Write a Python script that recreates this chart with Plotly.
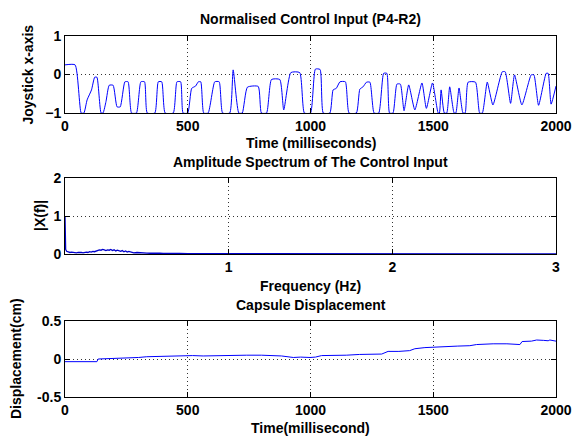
import plotly.graph_objects as go

# ---- Data: Normalised control input (joystick x-axis) ----
t_ms = [0, 41, 66, 77, 90, 108, 121, 130, 147, 155, 167, 180, 196, 212, 225, 244, 257, 271,
        291, 309, 324, 335, 366, 380, 394, 408, 441, 456, 471, 481, 500, 516, 532, 543, 553,
        565, 583, 610, 628, 642, 671, 685, 708, 722, 743, 787, 800, 821, 841, 875, 891, 920,
        956, 975, 1000, 1020, 1039, 1052, 1079, 1092, 1105, 1120, 1142, 1157, 1187, 1201,
        1214, 1228, 1242, 1259, 1278, 1298, 1311, 1322, 1336, 1352, 1366, 1381, 1400, 1425,
        1454, 1472, 1497, 1520, 1525, 1532, 1545, 1555, 1567, 1585, 1592, 1605, 1621, 1630,
        1642, 1672, 1689, 1700, 1720, 1743, 1781, 1793, 1815, 1831, 1861, 1899, 1910, 1929,
        1960, 1968, 1980, 2000]
joystick = [0.25, 0.25, -1, -1, -0.66, -0.4, -0.07, -0.07, -1, -1, -0.7, -0.28, -0.28, -0.84,
            -0.84, -0.19, -0.19, -1, -1, -0.19, -0.19, -1, -1, -0.19, -0.19, -1, -1, -0.19,
            -0.19, -1, -1, -0.36, -0.3, -0.19, -0.19, -1, -1, -0.19, -0.19, -1, -1, 0.12, -1,
            -1, -0.33, -0.31, -1, -1, -0.13, -0.13, -0.92, 0.05, 0.05, -1, -1, 0.14, 0.13, -1,
            -1, -0.4, -0.36, -0.19, -0.19, -1, -1, -0.38, -0.32, -0.2, -0.2, -1, -1, 0.03,
            0.03, -1, -1, -0.25, -0.25, -0.94, -0.27, -0.92, -0.22, -0.88, -0.22, -1, -1,
            -0.4, -1, -1, -0.32, -1, -1, -0.35, -1, -1, -0.2, -0.2, -1, -1, -0.2, -0.79,
            0.07, 0.07, -0.75, -0.01, -0.79, -0.01, -0.01, -0.8, 0.03, 0.03, -0.77, -0.3]

# ---- Data: amplitude spectrum ----
freq_hz = [0, 0.004, 0.01, 0.02, 0.03, 0.04, 0.05, 0.06, 0.07, 0.08, 0.09, 0.10, 0.11, 0.12,
           0.13, 0.14, 0.15, 0.16, 0.17, 0.18, 0.19, 0.20, 0.21, 0.22, 0.23, 0.24, 0.25, 0.26,
           0.27, 0.28, 0.29, 0.30, 0.31, 0.32, 0.33, 0.34, 0.35, 0.36, 0.37, 0.38, 0.39, 0.40,
           0.41, 0.42, 0.44, 0.46, 0.48, 0.50, 0.52, 0.54, 0.56, 0.58, 0.60, 0.63, 0.66, 0.70,
           0.75, 0.80, 0.9, 1.0, 1.2, 1.5, 2.0, 2.5, 3.0]
amplitude = [1.0, 0.12, 0.07, 0.05, 0.04, 0.05, 0.04, 0.05, 0.03, 0.04, 0.05, 0.04, 0.03, 0.05,
             0.05, 0.04, 0.06, 0.05, 0.07, 0.06, 0.08, 0.09, 0.11, 0.10, 0.12, 0.11, 0.09, 0.11,
             0.10, 0.12, 0.09, 0.11, 0.08, 0.10, 0.09, 0.07, 0.09, 0.06, 0.08, 0.05, 0.07, 0.05,
             0.04, 0.03, 0.04, 0.03, 0.035, 0.025, 0.02, 0.025, 0.02, 0.02, 0.015, 0.02, 0.01,
             0.015, 0.01, 0.01, 0.008, 0.01, 0.008, 0.006, 0.006, 0.005, 0.005]

# ---- Data: capsule displacement ----
t_disp = [0, 60, 130, 135, 200, 270, 300, 333, 380, 420, 482, 520, 563, 620, 698, 740, 800,
          850, 882, 930, 960, 998, 1020, 1045, 1100, 1146, 1200, 1250, 1290, 1316, 1360, 1404,
          1425, 1466, 1513, 1554, 1600, 1649, 1676, 1744, 1800, 1853, 1862, 1900, 1921, 1950,
          1968, 1975, 2000]
displacement = [-0.035, -0.035, -0.035, 0.0, 0.005, 0.01, 0.02, 0.03, 0.035, 0.04, 0.05, 0.045,
                0.04, 0.045, 0.045, 0.05, 0.05, 0.045, 0.04, 0.02, 0.025, 0.02, 0.025, 0.045,
                0.045, 0.05, 0.06, 0.065, 0.065, 0.1, 0.1, 0.11, 0.135, 0.15, 0.16, 0.17, 0.17,
                0.175, 0.19, 0.2, 0.2, 0.19, 0.23, 0.235, 0.25, 0.245, 0.24, 0.25, 0.235]

# tick labels
time_ticks = [0, 500, 1000, 1500, 2000]
freq_ticks = [1, 2, 3]

FONT = dict(family="Liberation Sans, Arial, sans-serif", size=14, color="black", weight="bold")
BLUE = "#0000ff"

fig = go.Figure()
fig.add_trace(go.Scatter(x=t_ms, y=joystick, mode="lines",
                         line=dict(color=BLUE, width=1, shape="spline", smoothing=0.5),
                         xaxis="x", yaxis="y"))
fig.add_trace(go.Scatter(x=freq_hz, y=amplitude, mode="lines", line=dict(color="#0000cc", width=1.3),
                         xaxis="x2", yaxis="y2"))
fig.add_trace(go.Scatter(x=t_disp, y=displacement, mode="lines", line=dict(color=BLUE, width=1),
                         xaxis="x3", yaxis="y3"))

def ax(**kw):
    base = dict(showline=True, linecolor="black", linewidth=1, mirror="ticks",
                ticks="inside", ticklen=5, tickcolor="black", tickwidth=1,
                showgrid=True, gridcolor="#333333", griddash="1px,3px", gridwidth=1,
                zeroline=False, tickfont=FONT, fixedrange=True, automargin=False)
    base.update(kw)
    return base

# plot area: x 65..556 px, y top 36 .. bottom 397 px
def py(ypx):
    return (397 - ypx) / 361.0

def px(xpx):
    return (xpx - 65) / 491.0

fig.update_layout(
    width=574, height=438,
    margin=dict(l=65, r=18, t=36, b=41, autoexpand=False),
    paper_bgcolor="white", plot_bgcolor="white",
    showlegend=False,
    xaxis=ax(domain=[0, 1], range=[0, 2000], tickvals=time_ticks, anchor="y"),
    yaxis=ax(domain=[py(113), py(36)], range=[-1, 1], tickvals=[-1, 0, 1], anchor="x"),
    xaxis2=ax(domain=[0, 1], range=[0, 3], tickvals=freq_ticks, anchor="y2"),
    yaxis2=ax(domain=[py(254), py(178)], range=[0, 2], tickvals=[0, 1, 2], anchor="x2"),
    xaxis3=ax(domain=[0, 1], range=[0, 2000], tickvals=time_ticks, anchor="y3"),
    yaxis3=ax(domain=[py(397), py(321)], range=[-0.5, 0.5], tickvals=[-0.5, 0, 0.5],
              ticktext=["-0.5", "0", "0.5"], anchor="x3"),
)

texts = [
    ("Normalised Control Input (P4-R2)", px(310.5), py(19), 0),
    ("Time (milliseconds)", px(310.5), py(143), 0),
    ("Amplitude Spectrum of The Control Input", px(310.5), py(162), 0),
    ("Frequency (Hz)", px(310.5), py(286), 0),
    ("Capsule Displacement", px(310.5), py(305), 0),
    ("Time(millisecond)", px(310.5), py(428), 0),
    ("Joystick x-axis", px(27), py(74.5), -90),
    ("|X(f)|", px(40), py(216), -90),
    ("Displacement(cm)", px(16), py(359), -90),
]
for txt, x, y, ang in texts:
    fig.add_annotation(text=txt, x=x, y=y, xref="paper", yref="paper", showarrow=False,
                       xanchor="center", yanchor="middle", textangle=ang, font=FONT)

fig.write_html("out.html", config={"displayModeBar": False},
               post_script="document.body.style.margin='0';document.body.style.overflow='hidden';")
